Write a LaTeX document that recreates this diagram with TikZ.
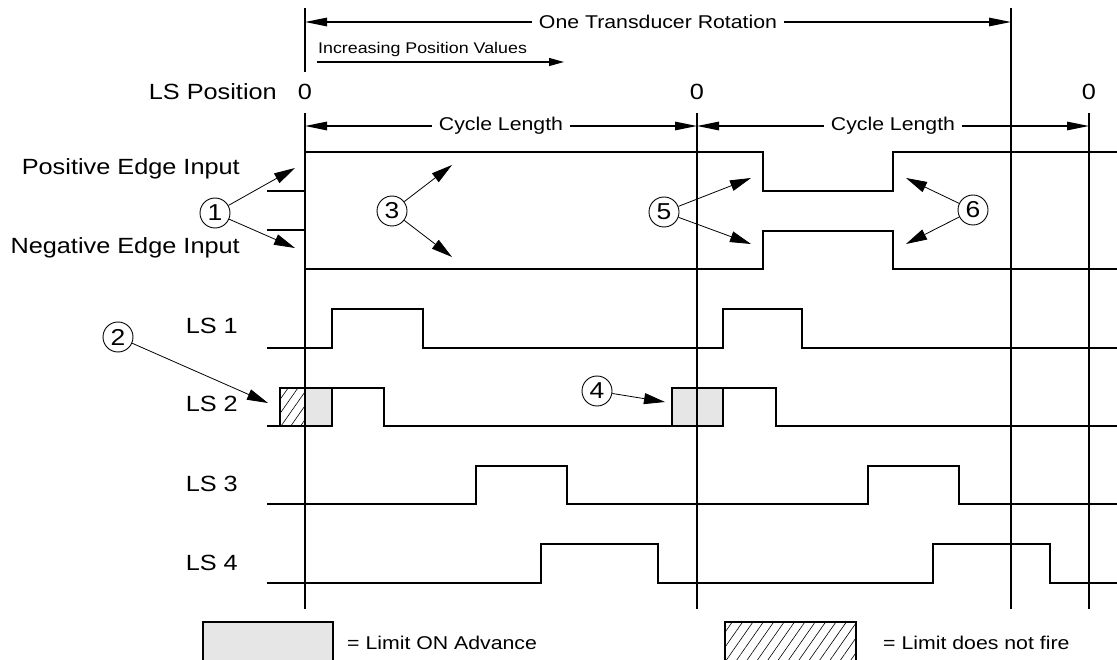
\documentclass[tikz,border=0pt]{standalone}
\usepackage{fontspec}
\setmainfont[FakeStretch=1.15]{Liberation Sans}
\usetikzlibrary{arrows.meta,patterns.meta,positioning}
\definecolor{ink}{RGB}{0,0,0}
\definecolor{ongray}{RGB}{230,230,230}
\tikzset{
  gridline/.style={draw=ink,line width=1.8pt},
  sig/.style={draw=ink,line width=1.3pt,line join=miter},
  dim/.style={{Triangle[length=22pt,width=8.5pt]}-{Triangle[length=22pt,width=8.5pt]},
    line width=1.2pt},
  fwd/.style={-{Triangle[length=15pt,width=8pt]},line width=1.2pt},
  callout/.style={-{Triangle[length=21pt,width=11pt]},line width=0.8pt},
  num/.style={circle,draw=ink,line width=0.9pt,minimum size=30pt,inner sep=0pt,
    font=\fontsize{23}{23}\selectfont},
  lbl/.style={font=\fontsize{18.5}{20}\selectfont,fill=white,inner xsep=7pt,inner ysep=1pt},
  side/.style={font=\fontsize{22}{24}\selectfont,anchor=east,inner sep=0pt},
  small/.style={font=\fontsize{15.5}{17}\selectfont,anchor=south west,inner sep=0pt},
  onbox/.style={fill=ongray,draw=ink,line width=1.1pt},
  nofire/.style={pattern={Lines[angle=55,distance=8.5pt,line width=0.6pt]},
    pattern color=ink,draw=ink,line width=1.1pt},
}

\begin{document}
\begin{tikzpicture}[x=1pt,y=-1pt]
  \useasboundingbox (0,0) rectangle (1117,660);

  % zero marks and vertical grid
  \node[side,anchor=center] (zA) at (305,92) {0};
  \node[side,anchor=center] (zB) at (697,92) {0};
  \node[side,anchor=center] (zC) at (1089,92) {0};
  \node[side] (lspos) at (277,92) {LS Position};
  \draw[gridline] (305,8) -- (305,72) (305,113) -- (305,609);
  \foreach \x in {697,1089}
    \draw[gridline] (\x,113) -- (\x,609);
  \draw[gridline] (1011,8) -- (1011,609);

  % rotation and cycle lengths
  \coordinate (rotL) at (305,22);
  \coordinate (rotR) at (1011,22);
  \draw[dim] (rotL) -- node[lbl] (rot) {One Transducer Rotation} (rotR);
  \node[small] (incr) at (318,57) {Increasing Position Values};
  \coordinate (incrL) at (317,62);
  \coordinate (incrR) at (564,62);
  \draw[fwd] (incrL) -- (incrR);
  \coordinate (cyA) at (305,126);
  \coordinate (cyB) at (697,126);
  \coordinate (cyC) at (1089,126);
  \draw[dim] (cyA) -- node[lbl] (cyc1) {Cycle Length} (cyB);
  \draw[dim] (cyB) -- node[lbl] (cyc2) {Cycle Length} (cyC);

  % edge inputs
  \node[side] (pos) at (240,169) {Positive Edge Input};
  \node[side] (neg) at (240,248) {Negative Edge Input};
  \draw[sig] (267,191) -- (305,191);
  \draw[sig] (267,230) -- (305,230);
  \draw[sig] (305,152) -- (763,152) -- (763,191) -- (893,191) -- (893,152) -- (1117,152);
  \draw[sig] (305,269) -- (763,269) -- (763,231) -- (893,231) -- (893,269) -- (1117,269);

  % limit switch outputs
  \node[side] (ls1) at (238,326) {LS 1};
  \node[side] (ls2) at (238,404) {LS 2};
  \node[side] (ls3) at (238,484) {LS 3};
  \node[side] (ls4) at (238,563) {LS 4};
  \draw[sig] (267,348) -- (332,348) -- (332,309) -- (423,309) -- (423,348)
    -- (723,348) -- (723,309) -- (802,309) -- (802,348) -- (1117,348);
  \draw[onbox,pattern={Lines[angle=55,distance=8pt,line width=0.6pt]},pattern color=ink]
    (280,388) rectangle (305,426);
  \draw[onbox] (305,388) rectangle (332,426);
  \draw[onbox] (672,388) rectangle (723,426);
  \draw[sig] (267,426) -- (280,426) (332,388) -- (384,388) -- (384,426) -- (672,426)
    (723,388) -- (776,388) -- (776,426) -- (1117,426);
  \draw[sig] (267,504) -- (476,504) -- (476,466) -- (567,466) -- (567,504)
    -- (868,504) -- (868,466) -- (959,466) -- (959,504) -- (1117,504);
  \draw[sig] (267,583) -- (541,583) -- (541,544) -- (658,544) -- (658,583)
    -- (933,583) -- (933,544) -- (1050,544) -- (1050,583) -- (1117,583);
  \draw[gridline] (305,388) -- (305,426) (697,388) -- (697,426);

  % numbered callouts
  \node[num] (n1) at (215,213) {1};
  \node[num] (n2) at (118,337) {2};
  \node[num] (n3) at (392,211) {3};
  \node[num] (n4) at (597,391) {4};
  \node[num] (n5) at (664,212) {5};
  \node[num] (n6) at (973,210) {6};
  \coordinate (t1a) at (295,168);
  \coordinate (t1b) at (295,248);
  \coordinate (t2) at (268,403);
  \coordinate (t3a) at (452,165);
  \coordinate (t3b) at (452,257);
  \coordinate (t4) at (665,402);
  \coordinate (t5a) at (751,178);
  \coordinate (t5b) at (751,244);
  \coordinate (t6a) at (906,178);
  \coordinate (t6b) at (906,244);
  \draw[callout] (n1) -- (t1a);
  \draw[callout] (n1) -- (t1b);
  \draw[callout] (n2) -- (t2);
  \draw[callout] (n3) -- (t3a);
  \draw[callout] (n3) -- (t3b);
  \draw[callout] (n4) -- (t4);
  \draw[callout] (n5) -- (t5a);
  \draw[callout] (n5) -- (t5b);
  \draw[callout] (n6) -- (t6a);
  \draw[callout] (n6) -- (t6b);

  % legend
  \draw[onbox] (203,622) rectangle (333,668);
  \node[small,anchor=west,font=\fontsize{18.5}{20}\selectfont] (keyon) at (347,643)
    {= Limit ON Advance};
  \draw[nofire] (725,622) rectangle (856,668);
  \node[small,anchor=west,font=\fontsize{18.5}{20}\selectfont] (keyno) at (883,643)
    {= Limit does not fire};
\end{tikzpicture}
\end{document}
